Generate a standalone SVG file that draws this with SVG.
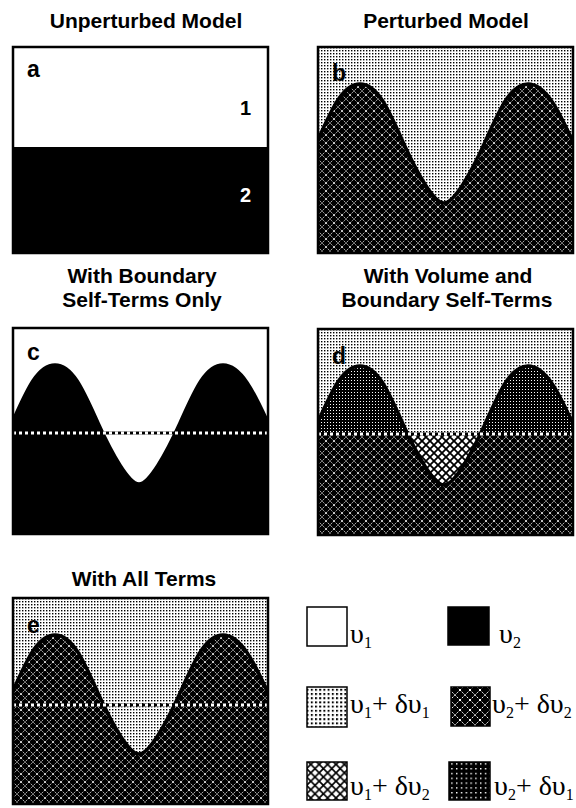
<svg xmlns="http://www.w3.org/2000/svg" xmlns:xlink="http://www.w3.org/1999/xlink" width="576" height="808" viewBox="0 0 576 808">
<style>
.title{font-family:"Liberation Sans",Arial,sans-serif;font-weight:bold;font-size:21px;text-anchor:middle;fill:#000}
.lbl{font-family:"Liberation Sans",Arial,sans-serif;font-weight:bold;font-size:23px;fill:#000}
.num{font-family:"Liberation Sans",Arial,sans-serif;font-weight:bold;font-size:20px;text-anchor:end}
.frame{fill:none;stroke:#000;stroke-width:2.5}
.curve{fill:none;stroke:#000;stroke-width:3.5}
.lineb{stroke:#000;stroke-width:3}
.linew{stroke:#fff;stroke-width:3;stroke-dasharray:3 3}
.lg{font-family:"Liberation Serif","Times New Roman",serif;font-size:28px;fill:#000}
.sub{font-size:16px}
.box{stroke:#000;stroke-width:1.5}
</style>
<defs>
<pattern id="dots" width="3" height="3" patternUnits="userSpaceOnUse">
<rect width="3" height="3" fill="#fff"/><rect width="1.4" height="1.4" fill="#000"/>
</pattern>
<pattern id="bdots" width="3" height="3" patternUnits="userSpaceOnUse">
<rect width="3" height="3" fill="#000"/><rect width="1" height="1" fill="#fff"/>
</pattern>
<pattern id="darkX" width="8" height="8" patternUnits="userSpaceOnUse">
<rect width="8" height="8" fill="#000"/><path d="M0,0 L8,8 M8,0 L0,8" stroke="#fff" stroke-width="0.8" stroke-dasharray="1.5 1"/>
</pattern>
<pattern id="lightX" width="8" height="8" patternUnits="userSpaceOnUse">
<rect width="8" height="8" fill="#fff"/><path d="M0,0 L8,8 M8,0 L0,8" stroke="#000" stroke-width="1.8"/>
</pattern>
<pattern id="Ldots" href="#dots" patternTransform="scale(1.4)"/>
<pattern id="LbdotsP" width="3" height="3" patternUnits="userSpaceOnUse" patternTransform="scale(1.6)">
<rect width="3" height="3" fill="#000"/><rect width="0.9" height="0.9" fill="#fff"/>
</pattern>
<pattern id="LdarkX" href="#darkX" patternTransform="scale(1.25)"/>
<pattern id="LlightX" width="8" height="8" patternUnits="userSpaceOnUse" patternTransform="scale(1.05)">
<rect width="8" height="8" fill="#fff"/><path d="M0,0 L8,8 M8,0 L0,8" stroke="#000" stroke-width="1.6"/>
</pattern>
<path id="wave" d="M-1,95 C13,64 24,37 42,37 C60,37 71,64 85,95 C99,126 116,156 126,156 C136,156 153,126 167,95 C181,64 192,37 210,37 C228,37 241,64 256,97"/>
<path id="below" d="M-1,95 C13,64 24,37 42,37 C60,37 71,64 85,95 C99,126 116,156 126,156 C136,156 153,126 167,95 C181,64 192,37 210,37 C228,37 241,64 256,97 L256,208 L-1,208 Z"/>
<clipPath id="panel"><rect x="0" y="0" width="255" height="206"/></clipPath>
<clipPath id="upper"><rect x="0" y="0" width="255" height="105"/></clipPath>
<clipPath id="lower"><rect x="0" y="105" width="255" height="101"/></clipPath>
</defs>

<g id="panel-a">
<text class="title" x="146" y="28">Unperturbed Model</text>
<g transform="translate(13,47)">
<rect x="0" y="0" width="255" height="206" fill="#fff"/>
<rect x="0" y="100" width="255" height="106" fill="#000"/>
<text class="lbl" x="14" y="30">a</text>
<text class="num" x="238" y="68" fill="#000">1</text>
<text class="num" x="238" y="155" fill="#fff">2</text>
<rect class="frame" x="0" y="0" width="255" height="206"/>
</g>
</g>

<g id="panel-b">
<text class="title" x="446" y="28">Perturbed Model</text>
<g transform="translate(318,47)">
<g clip-path="url(#panel)">
<rect x="0" y="0" width="255" height="206" fill="url(#dots)"/>
<use href="#below" fill="url(#darkX)"/>
<use href="#wave" class="curve"/>
</g>
<text class="lbl" x="14" y="34">b</text>
<rect class="frame" x="0" y="0" width="255" height="206"/>
</g>
</g>

<g id="panel-c">
<text class="title" x="142" y="283">With Boundary</text>
<text class="title" x="142" y="307">Self-Terms Only</text>
<g transform="translate(13,328)">
<g clip-path="url(#panel)">
<rect x="0" y="0" width="255" height="206" fill="#fff"/>
<use href="#below" fill="#000"/>
<use href="#wave" class="curve"/>
<line class="lineb" x1="0" y1="105" x2="255" y2="105"/>
<line class="linew" x1="0" y1="105" x2="255" y2="105"/>
</g>
<text class="lbl" x="14" y="32">c</text>
<rect class="frame" x="0" y="0" width="255" height="206"/>
</g>
</g>

<g id="panel-d">
<text class="title" x="448" y="283">With Volume and</text>
<text class="title" x="447" y="307">Boundary Self-Terms</text>
<g transform="translate(318,329)">
<g clip-path="url(#panel)">
<rect x="0" y="0" width="255" height="206" fill="url(#dots)"/>
<rect x="0" y="105" width="255" height="101" fill="url(#lightX)"/>
<use href="#below" fill="url(#bdots)" clip-path="url(#upper)"/>
<use href="#below" fill="url(#darkX)" clip-path="url(#lower)"/>
<use href="#wave" class="curve"/>
<line class="lineb" x1="0" y1="105" x2="255" y2="105"/>
<line class="linew" x1="0" y1="105" x2="255" y2="105"/>
</g>
<text class="lbl" x="14" y="35">d</text>
<rect class="frame" x="0" y="0" width="255" height="206"/>
</g>
</g>

<g id="panel-e">
<text class="title" x="144" y="586">With All Terms</text>
<g transform="translate(13,598)">
<g clip-path="url(#panel)">
<rect x="0" y="0" width="255" height="206" fill="url(#dots)"/>
<use href="#below" fill="url(#darkX)"/>
<use href="#wave" class="curve"/>
<line class="lineb" x1="0" y1="107" x2="255" y2="107"/>
<line class="linew" x1="0" y1="107" x2="255" y2="107"/>
</g>
<text class="lbl" x="14" y="35">e</text>
<rect class="frame" x="0" y="0" width="255" height="206"/>
</g>
</g>

<g id="legend">
<g id="leg-v1">
<rect class="box" x="307" y="607" width="40" height="39" fill="#fff"/>
<text class="lg" x="350" y="643">υ<tspan class="sub" dy="5">1</tspan></text>
</g>
<g id="leg-v2">
<rect class="box" x="448" y="607" width="41" height="38" fill="#000"/>
<text class="lg" x="499" y="643">υ<tspan class="sub" dy="5">2</tspan></text>
</g>
<g id="leg-v1dv1">
<rect class="box" x="307" y="687" width="40" height="40" fill="url(#Ldots)"/>
<text class="lg" x="350" y="713">υ<tspan class="sub" dy="5">1</tspan><tspan dy="-5">+ δυ</tspan><tspan class="sub" dy="5">1</tspan></text>
</g>
<g id="leg-v2dv2">
<rect class="box" x="451" y="687" width="39" height="39" fill="url(#LdarkX)"/>
<text class="lg" x="492" y="713">υ<tspan class="sub" dy="5">2</tspan><tspan dy="-5">+ δυ</tspan><tspan class="sub" dy="5">2</tspan></text>
</g>
<g id="leg-v1dv2">
<rect class="box" x="307" y="762" width="40" height="38" fill="url(#LlightX)"/>
<text class="lg" x="350" y="795">υ<tspan class="sub" dy="5">1</tspan><tspan dy="-5">+ δυ</tspan><tspan class="sub" dy="5">2</tspan></text>
</g>
<g id="leg-v2dv1">
<rect class="box" x="449" y="762" width="41" height="38" fill="url(#LbdotsP)"/>
<text class="lg" x="494" y="795">υ<tspan class="sub" dy="5">2</tspan><tspan dy="-5">+ δυ</tspan><tspan class="sub" dy="5">1</tspan></text>
</g>
</g>
</svg>
